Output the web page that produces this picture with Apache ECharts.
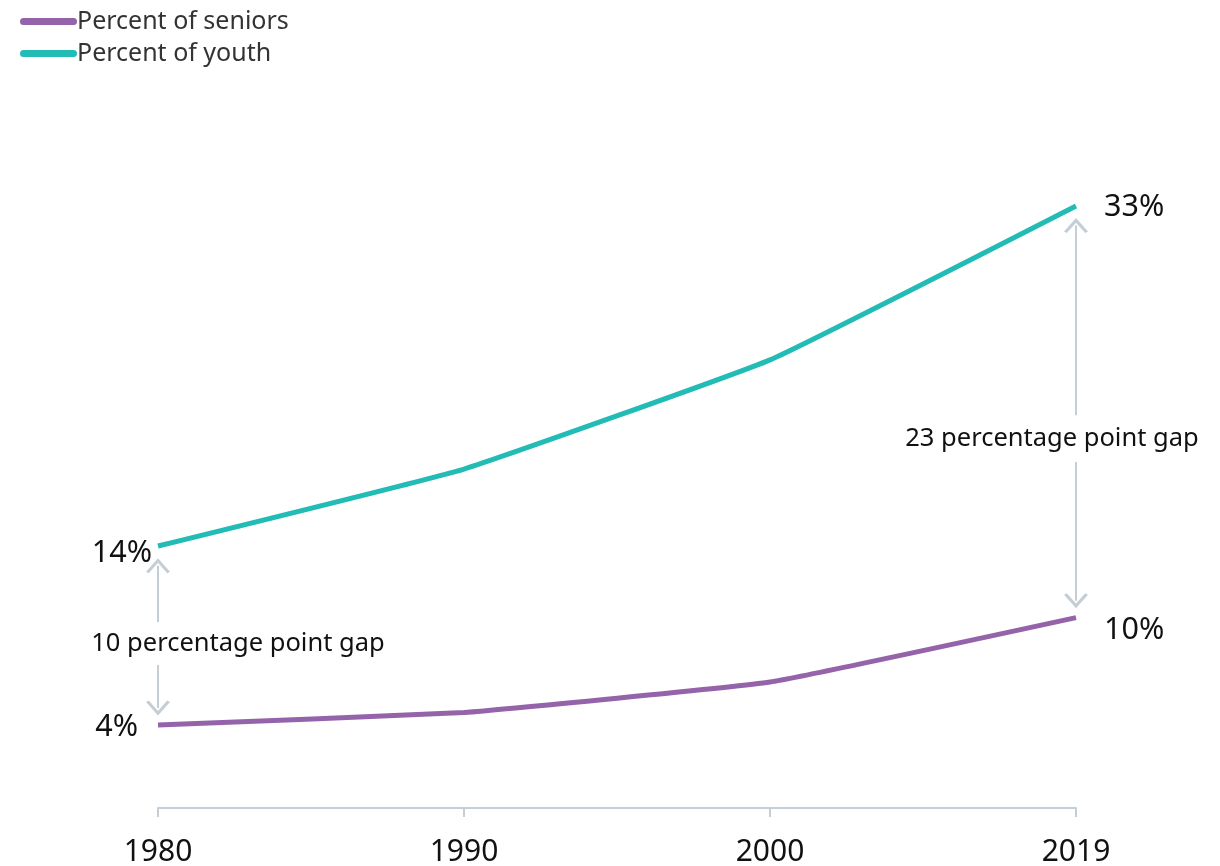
<!DOCTYPE html>
<html>
<head>
<meta charset="utf-8">
<script src="https://cdn.jsdelivr.net/npm/echarts@6/dist/echarts.min.js"></script>
<style>
html,body{margin:0;padding:0;background:#fff;}
#chart{width:1220px;height:866px;}
</style>
</head>
<body>
<div id="chart"></div>
<script>
const years = ['1980', '1990', '2000', '2019'];
const seniors = [4, 4.7, 6.4, 10];
const youth = [14, 18.3, 24.4, 33];
const seriesNames = ['Percent of seniors', 'Percent of youth'];
const gapStart = [4, 10];   // seniors values at 1980 / 2019
const gapEnd = [14, 33];    // youth values at 1980 / 2019
const gapLabels = ['10 percentage point gap', '23 percentage point gap'];

const purple = '#9563aa';
const teal = '#22bbb5';
const grey = '#c5cdd5';
const fontFamily = '"Noto Sans", "Open Sans", sans-serif';

const chevron = 'path://M0,9 L6,0 L12,9 L10.6,10 L6,3.1 L1.4,10 Z';

function pct(v) { return Math.round(v) + '%'; }

function buildData(values, opts) {
  return values.map((v, i) => {
    const o = { value: v };
    if (i === 0) {
      o.label = { show: true, position: 'left', distance: opts.leftDist, offset: [0, opts.leftOff], formatter: p => pct(p.value) };
    } else if (i === values.length - 1) {
      o.label = { show: true, position: 'right', distance: opts.rightDist, offset: [0, opts.rightOff], formatter: p => pct(p.value) };
    }
    return o;
  });
}

const labelText = { show: false, fontFamily: fontFamily, fontSize: 30.5, color: '#111' };

// gap arrows: split around the text
function arrowSegs(idx, cat, textVal, halfGapVal) {
  const lo = gapStart[idx], hi = gapEnd[idx];
  return [
    [{ coord: [cat, textVal + halfGapVal] }, { coord: [cat, hi - 1.1] }],
    [{ coord: [cat, textVal - halfGapVal] }, { coord: [cat, lo + 0.95] }]
  ];
}

const chart = echarts.init(document.getElementById('chart'), null, { renderer: 'canvas' });
const option = {
  animation: false,
  backgroundColor: '#fff',
  legend: {
    orient: 'vertical',
    left: 15,
    top: 4,
    itemWidth: 57,
    itemHeight: 7,
    itemGap: 7,
    icon: 'path://M3.5,0 L53.5,0 A3.5,3.5 0 0 1 53.5,7 L3.5,7 A3.5,3.5 0 0 1 3.5,0 Z',
    textStyle: { fontFamily: fontFamily, fontSize: 25, color: '#333', lineHeight: 25, padding: [0, 0, 0, -5] },
    data: seriesNames
  },
  grid: { left: 158, right: 144, top: 80.6, bottom: 57.9, containLabel: false, outerBoundsMode: 'none' },
  xAxis: {
    type: 'category',
    data: years,
    boundaryGap: false,
    axisLine: { onZero: false, lineStyle: { color: grey, width: 2 } },
    axisTick: { show: true, length: 9, lineStyle: { color: grey, width: 2 } },
    axisLabel: { fontFamily: fontFamily, fontSize: 30, color: '#111', margin: 29 }
  },
  yAxis: {
    type: 'value',
    min: -0.64,
    max: 40,
    show: false,
    splitLine: { show: false }
  },
  series: [
    {
      name: seriesNames[0],
      type: 'line',
      smooth: 0.1,
      showSymbol: true,
      symbol: 'circle',
      symbolSize: 0,
      color: purple,
      lineStyle: { width: 5, color: purple },
      label: labelText,
      data: buildData(seniors, { leftDist: 20, leftOff: 2, rightDist: 28, rightOff: 13 }),
      z: 3
    },
    {
      name: seriesNames[1],
      type: 'line',
      smooth: 0.1,
      showSymbol: true,
      symbol: 'circle',
      symbolSize: 0,
      color: teal,
      lineStyle: { width: 5, color: teal },
      label: labelText,
      data: buildData(youth, { leftDist: 6, leftOff: 7, rightDist: 28, rightOff: 1 }),
      z: 3,
      markLine: {
        silent: true,
        symbol: ['none', chevron],
        symbolSize: [24, 15],
        symbolKeepAspect: false,
        lineStyle: { color: grey, width: 2, type: 'solid' },
        label: { show: false },
        emphasis: { disabled: true },
        data: arrowSegs(0, '1980', 8.55, 1.2).concat(arrowSegs(1, '2019', 20.0, 1.3))
      },
      markPoint: {
        silent: true,
        symbol: 'circle',
        symbolSize: 0,
        label: { show: true, position: 'inside', fontFamily: fontFamily, fontSize: 25.5, color: '#111' },
        data: [
          { coord: ['1980', 8.55], label: { formatter: gapLabels[0], offset: [80, 0] } },
          { coord: ['2019', 20.0], label: { formatter: gapLabels[1], offset: [-24, 0] } }
        ]
      }
    }
  ]
};
chart.setOption(option);
</script>
</body>
</html>
